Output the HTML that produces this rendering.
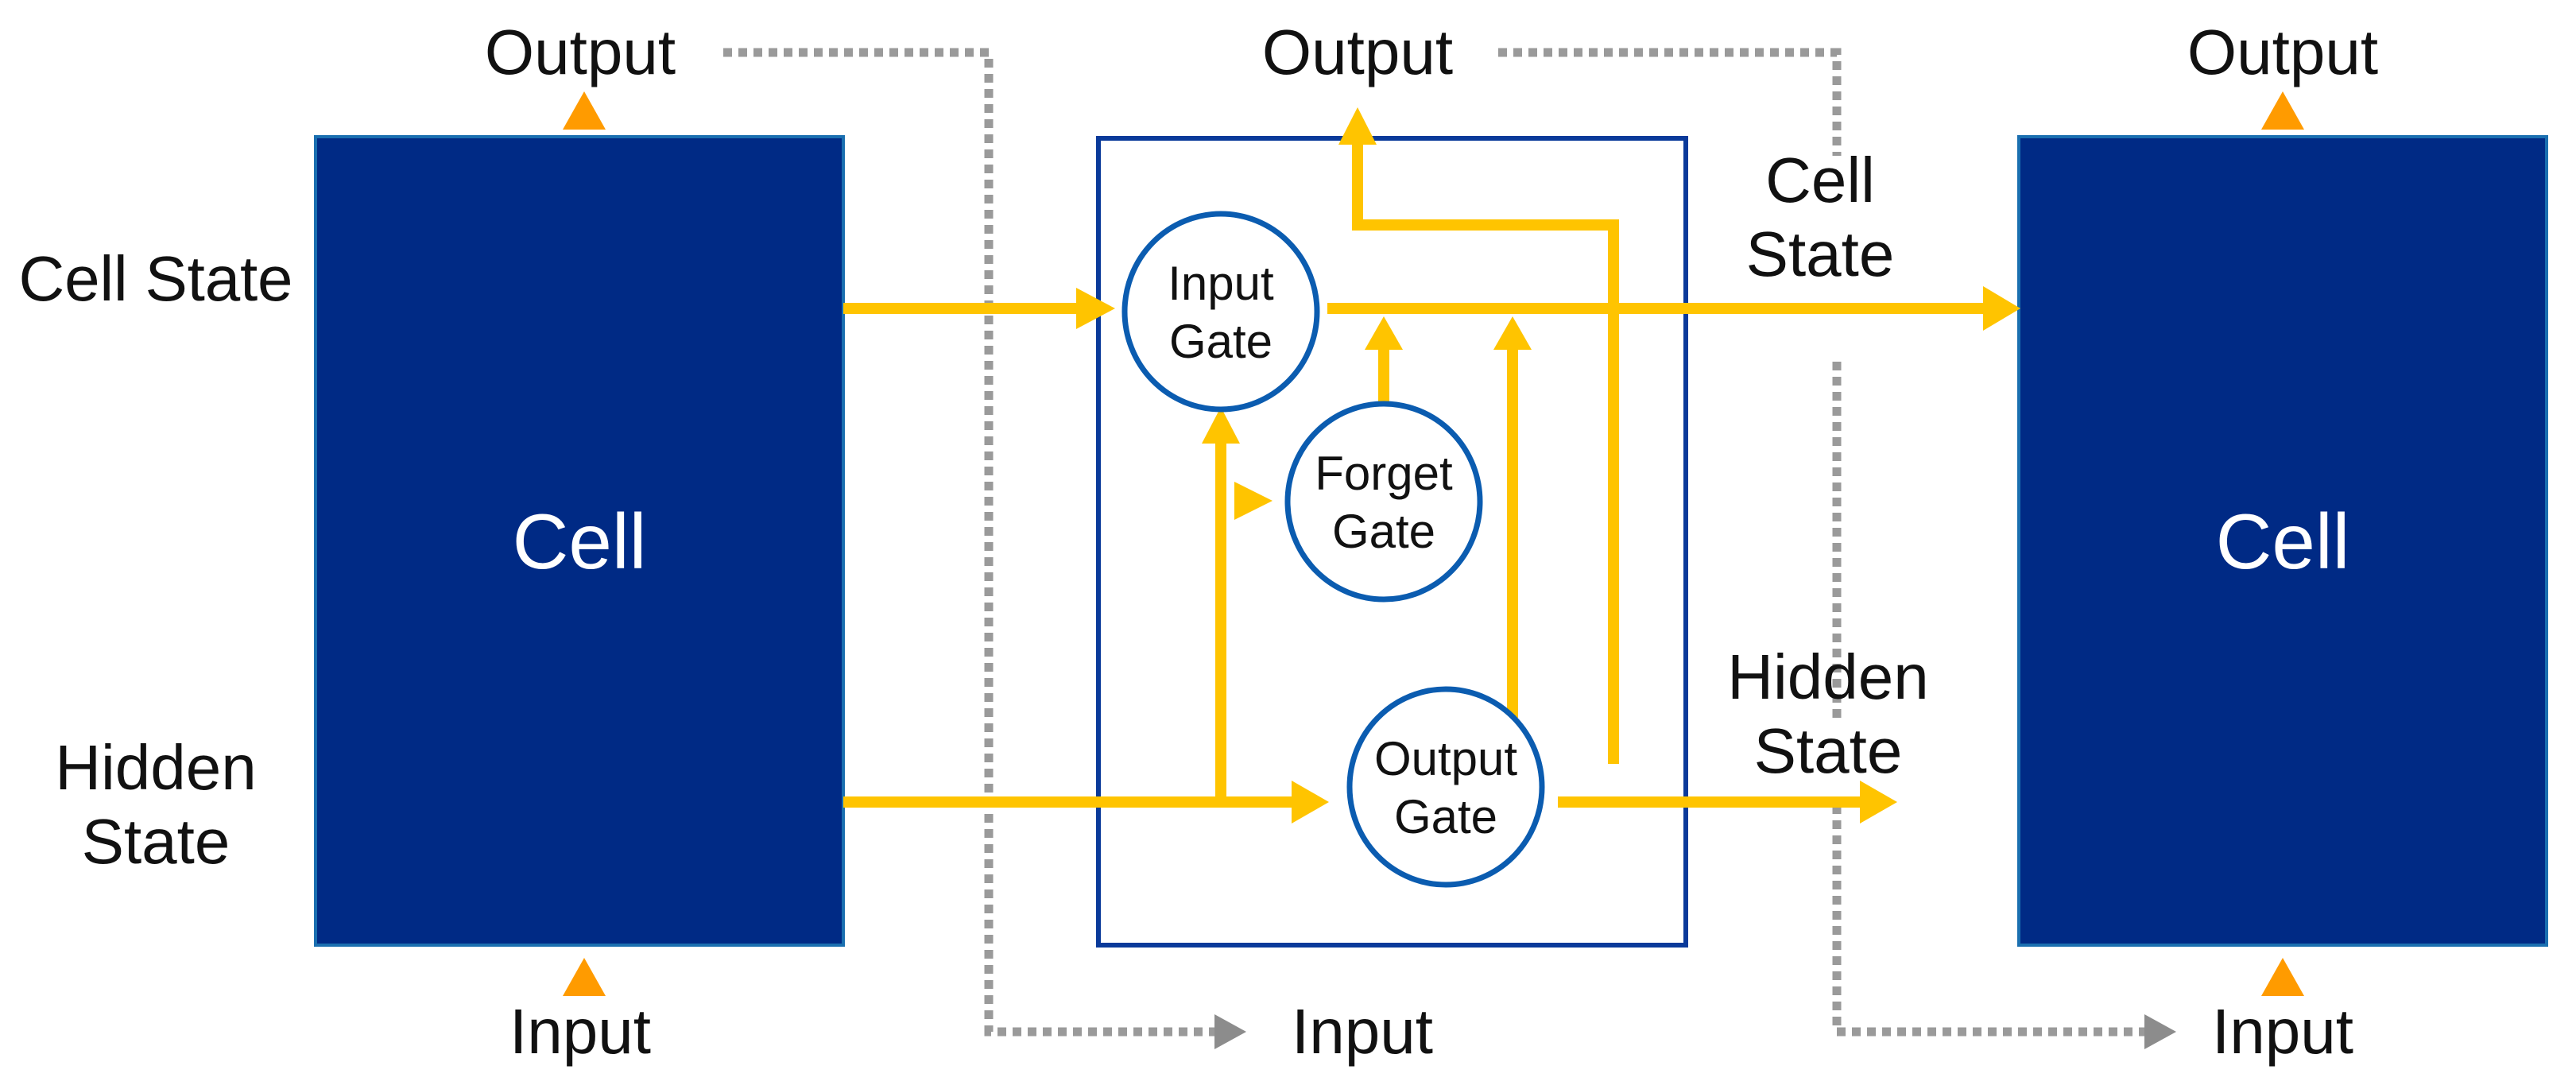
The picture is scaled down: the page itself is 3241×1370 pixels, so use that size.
<!DOCTYPE html>
<html><head><meta charset="utf-8"><style>
html,body{margin:0;padding:0;background:#fff}
svg{display:block}
text{font-family:"Liberation Sans",sans-serif;fill:#111}
</style></head><body>
<svg width="3241" height="1370" viewBox="0 0 3241 1370" xmlns="http://www.w3.org/2000/svg">
<!-- grey dotted -->
<g fill="none" stroke="#9a9a9a" stroke-width="11" stroke-dasharray="11 8">
<path d="M910,66 H1244 V1298 H1530"/>
<path d="M1885,66 H2311 V196"/>
<path d="M2311,455 V910"/>
<path d="M2311,1013 V1298 H2700"/>
</g>
<path d="M1528,1276 L1568,1298 L1528,1320 Z" fill="#8c8c8c"/>
<path d="M2698,1276 L2738,1298 L2698,1320 Z" fill="#8c8c8c"/>
<!-- cells -->
<rect x="397" y="172" width="664" height="1017" fill="#002a85" stroke="#1a6fb0" stroke-width="4"/>
<rect x="2540" y="172" width="664" height="1017" fill="#002a85" stroke="#1a6fb0" stroke-width="4"/>
<text x="729" y="715" font-size="98" text-anchor="middle" style="fill:#fff">Cell</text>
<text x="2872" y="715" font-size="98" text-anchor="middle" style="fill:#fff">Cell</text>
<!-- middle box -->
<rect x="1382" y="174" width="739" height="1015" fill="none" stroke="#0a3a9a" stroke-width="6"/>
<!-- yellow lines -->
<g fill="none" stroke="#ffc400" stroke-width="14">
<path d="M1061,388 H1360"/>
<path d="M1670,388 H2500"/>
<path d="M1061,1009 H1630"/>
<path d="M1536,1009 V550"/>
<path d="M1741,508 V430"/>
<path d="M1903,903 V430"/>
<path d="M1960,1009 H2345"/>
<path d="M2030,961 V283 H1708 V170"/>
</g>
<g fill="#ffc400">
<path d="M1354,362 L1403,388 L1354,414 Z"/>
<path d="M2495,360 L2542,388 L2495,416 Z"/>
<path d="M1625,982 L1672,1009 L1625,1036 Z"/>
<path d="M1512,558 L1536,512 L1560,558 Z"/>
<path d="M1717,440 L1741,398 L1765,440 Z"/>
<path d="M1879,440 L1903,398 L1927,440 Z"/>
<path d="M2340,982 L2387,1009 L2340,1036 Z"/>
<path d="M1684,182 L1708,135 L1732,182 Z"/>
<path d="M1553,606 L1601,630 L1553,654 Z"/>
</g>
<!-- gates -->
<g fill="#fff" stroke="#0b5cb0" stroke-width="7">
<ellipse cx="1536" cy="392" rx="121" ry="123"/>
<ellipse cx="1741" cy="631" rx="121" ry="123"/>
<ellipse cx="1819" cy="990" rx="121" ry="123"/>
</g>
<g font-size="60" text-anchor="middle">
<text x="1536" y="377">Input</text><text x="1536" y="450">Gate</text>
<text x="1741" y="616">Forget</text><text x="1741" y="689">Gate</text>
<text x="1819" y="975">Output</text><text x="1819" y="1048">Gate</text>
</g>
<!-- orange triangles -->
<g fill="#ff9b00">
<path d="M708,163 L735,115 L762,163 Z"/>
<path d="M2845,163 L2872,115 L2899,163 Z"/>
<path d="M708,1253 L735,1205 L762,1253 Z"/>
<path d="M2845,1253 L2872,1205 L2899,1253 Z"/>
</g>
<!-- labels -->
<g font-size="80" text-anchor="middle">
<text x="730" y="93">Output</text>
<text x="1708" y="93">Output</text>
<text x="2872" y="93">Output</text>
<text x="730" y="1325">Input</text>
<text x="1714" y="1325">Input</text>
<text x="2872" y="1325">Input</text>
<text x="196" y="378" textLength="345" lengthAdjust="spacing">Cell State</text>
<text x="196" y="993">Hidden</text>
<text x="196" y="1086">State</text>
<text x="2290" y="254">Cell</text>
<text x="2290" y="347">State</text>
<text x="2300" y="879">Hidden</text>
<text x="2300" y="972">State</text>
</g>
</svg>
</body></html>
